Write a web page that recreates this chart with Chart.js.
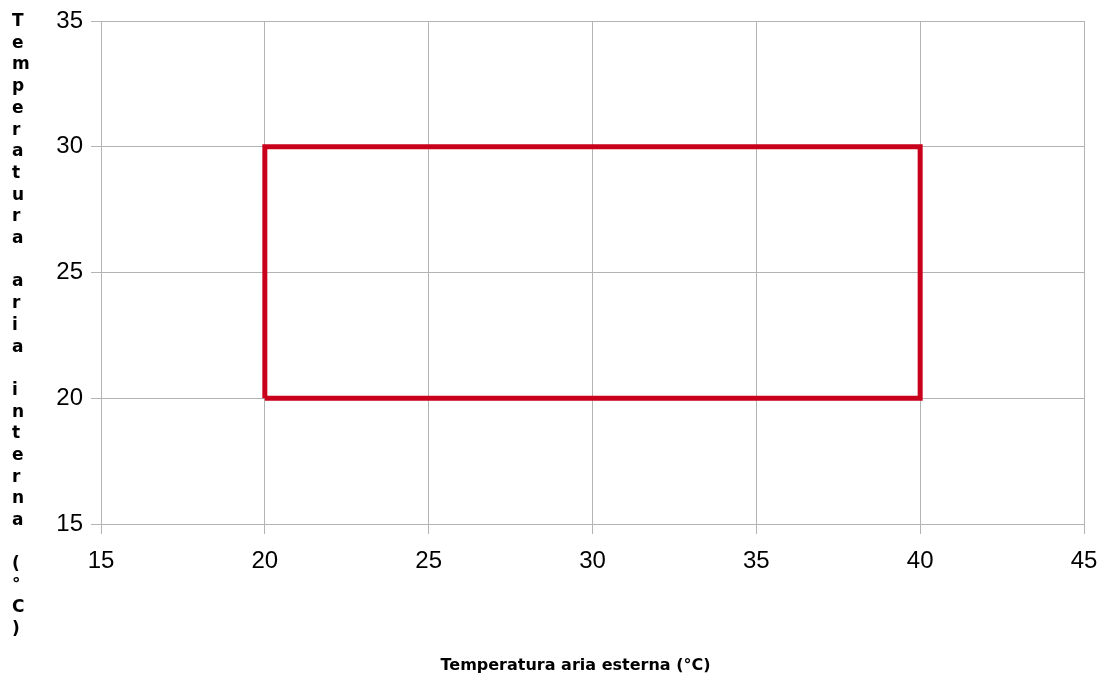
<!DOCTYPE html>
<html>
<head>
<meta charset="utf-8">
<script src="https://cdn.jsdelivr.net/npm/chart.js@4"></script>
<style>
html,body{margin:0;padding:0;background:#fff;}
#wrap{width:1103px;height:677px;position:relative;}
</style>
</head>
<body>
<div id="wrap"><canvas id="c" width="1103" height="677"></canvas></div>
<script>
const xValues = [20, 20, 40, 40, 20];
const yValues = [20, 30, 30, 20, 20];
const xTickValues = [15, 20, 25, 30, 35, 40, 45];
const yTickValues = [15, 20, 25, 30, 35];
const xTitle = 'Temperatura aria esterna (°C)';
const yTitle = 'Temperatura aria interna (°C)';

const points = xValues.map((x, i) => ({x: x, y: yValues[i]}));
const gridColor = '#b3b3b3';

const titlePlugin = {
  id: 'axisTitles',
  afterDraw(chart) {
    const ctx = chart.ctx;
    ctx.save();
    ctx.fillStyle = '#000';
    ctx.font = 'bold 16px "DejaVu Sans"';
    ctx.textAlign = 'center';
    ctx.textBaseline = 'alphabetic';
    ctx.fillText(xTitle, 575.5, 670);
    ctx.font = 'bold 17px "DejaVu Sans"';
    ctx.textAlign = 'left';
    const chars = Array.from(yTitle);
    const step = 21.7;
    chars.forEach((ch, i) => {
      ctx.fillText(ch, 12, 26 + i * step);
    });
    ctx.restore();
  }
};

function zeroPad(scale) {
  scale.paddingLeft = 0; scale.paddingRight = 0;
  scale.paddingTop = 0; scale.paddingBottom = 0;
}

new Chart(document.getElementById('c'), {
  type: 'scatter',
  data: {
    datasets: [{
      data: points,
      showLine: true,
      borderColor: '#c9001b',
      backgroundColor: '#c9001b',
      borderWidth: 5,
      pointRadius: 0,
      borderJoinStyle: 'miter',
      tension: 0
    }]
  },
  options: {
    responsive: false,
    animation: false,
    events: [],
    layout: {padding: {top: 21, right: 19, left: 0, bottom: 0}},
    plugins: {legend: {display: false}, tooltip: {enabled: false}, title: {display: false}},
    scales: {
      x: {
        type: 'linear',
        min: 15, max: 45,
        afterFit(scale) { scale.height = 153; zeroPad(scale); },
        afterBuildTicks(scale) { scale.ticks = xTickValues.map(v => ({value: v})); },
        grid: {color: gridColor, lineWidth: 1, tickLength: 10, drawTicks: true},
        border: {color: gridColor, width: 1},
        ticks: {color: '#000', font: {family: '"Liberation Sans"', size: 24}, padding: 13, maxRotation: 0, autoSkip: false}
      },
      y: {
        type: 'linear',
        min: 15, max: 35,
        afterFit(scale) { scale.width = 101; zeroPad(scale); },
        afterBuildTicks(scale) { scale.ticks = yTickValues.map(v => ({value: v})); },
        grid: {color: gridColor, lineWidth: 1, tickLength: 10, drawTicks: true},
        border: {color: gridColor, width: 1},
        ticks: {color: '#000', font: {family: '"Liberation Sans"', size: 24}, padding: 8, autoSkip: false}
      }
    }
  },
  plugins: [titlePlugin]
});
</script>
</body>
</html>
